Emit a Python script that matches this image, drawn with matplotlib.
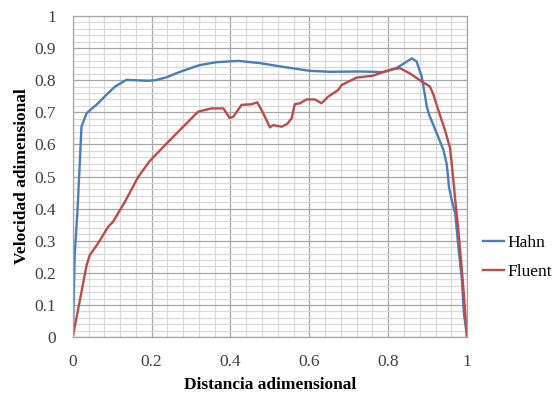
import matplotlib
matplotlib.use('Agg')
import matplotlib.pyplot as plt
from matplotlib.ticker import MultipleLocator

plt.rcParams['font.family'] = ['Liberation Serif', 'DejaVu Serif']

# Hahn (azul)
hahn_x = [0.0, 0.005, 0.012, 0.018, 0.022, 0.035, 0.064, 0.085, 0.107, 0.136,
          0.191, 0.21, 0.238, 0.272, 0.322, 0.365, 0.42, 0.475, 0.525, 0.601,
          0.652, 0.728, 0.788, 0.817, 0.840, 0.860, 0.872, 0.885, 0.891, 0.898,
          0.904, 0.923, 0.940, 0.948, 0.951, 0.954, 0.961, 0.970, 0.978, 0.987,
          0.992, 1.0]
hahn_y = [0.0, 0.26, 0.396, 0.551, 0.655, 0.697, 0.728, 0.754, 0.780, 0.801,
          0.798, 0.800, 0.809, 0.826, 0.847, 0.856, 0.860, 0.853, 0.843, 0.829,
          0.826, 0.827, 0.825, 0.835, 0.852, 0.868, 0.858, 0.811, 0.769, 0.717,
          0.692, 0.635, 0.583, 0.541, 0.51, 0.468, 0.427, 0.385, 0.281, 0.178,
          0.074, 0.0]

# Fluent (rojo)
fluent_x = [0.0, 0.018, 0.035, 0.043, 0.064, 0.090, 0.102, 0.132, 0.166, 0.195,
            0.238, 0.280, 0.318, 0.352, 0.382, 0.390, 0.398, 0.407, 0.428, 0.453,
            0.468, 0.483, 0.500, 0.508, 0.530, 0.544, 0.555, 0.563, 0.576, 0.593,
            0.614, 0.631, 0.648, 0.673, 0.682, 0.720, 0.762, 0.788, 0.813, 0.830,
            0.855, 0.880, 0.906, 0.915, 0.927, 0.944, 0.957, 0.961, 0.967, 0.970,
            0.978, 0.989, 1.0]
fluent_y = [0.0, 0.115, 0.224, 0.255, 0.292, 0.344, 0.359, 0.421, 0.499, 0.548,
            0.603, 0.655, 0.702, 0.712, 0.712, 0.697, 0.682, 0.686, 0.723, 0.725,
            0.731, 0.697, 0.653, 0.660, 0.655, 0.664, 0.681, 0.725, 0.728, 0.740,
            0.740, 0.728, 0.749, 0.769, 0.785, 0.808, 0.814, 0.826, 0.835, 0.837,
            0.821, 0.800, 0.780, 0.754, 0.707, 0.645, 0.588, 0.541, 0.468, 0.427,
            0.333, 0.178, 0.0]

fig = plt.figure(figsize=(5.6, 3.98), dpi=100)
ax = fig.add_axes([0.130, 0.153, 0.704, 0.807])

ax.plot(hahn_x, hahn_y, color='#4A7EBB', lw=1.7, label='Hahn',
        solid_joinstyle='round')
ax.plot(fluent_x, fluent_y, color='#BE4B48', lw=1.7, label='Fluent',
        solid_joinstyle='round')

ax.set_xlim(0, 1)
ax.set_ylim(0, 1)
ax.xaxis.set_major_locator(MultipleLocator(0.2))
ax.xaxis.set_minor_locator(MultipleLocator(0.04))
ax.yaxis.set_major_locator(MultipleLocator(0.1))
ax.yaxis.set_minor_locator(MultipleLocator(0.02))
ax.xaxis.set_major_formatter(lambda v, p: '%g' % round(v, 2))
ax.yaxis.set_major_formatter(lambda v, p: '%g' % round(v, 2))

ax.grid(which='major', color='#a6a6a6', lw=0.9)
ax.grid(which='minor', color='#dadada', lw=0.9)
ax.set_axisbelow(True)
for s in ax.spines.values():
    s.set_color('#a6a6a6')
    s.set_linewidth(0.9)

ax.tick_params(which='both', length=0, labelsize=12.5, labelcolor='#404040')
ax.tick_params(axis='y', pad=12)
ax.tick_params(axis='x', pad=12)

ax.set_xlabel('Distancia adimensional', fontsize=12.5, fontweight='bold', labelpad=5)
ax.set_ylabel('Velocidad adimensional', fontsize=12.5, fontweight='bold', labelpad=3)

fig.legend(loc='center left', bbox_to_anchor=(0.862, 0.353), frameon=False,
           fontsize=12.5, handlelength=1.2, handletextpad=0.2, labelspacing=0.7,
           borderpad=0, borderaxespad=0)

fig.savefig('out.png', dpi=100)
